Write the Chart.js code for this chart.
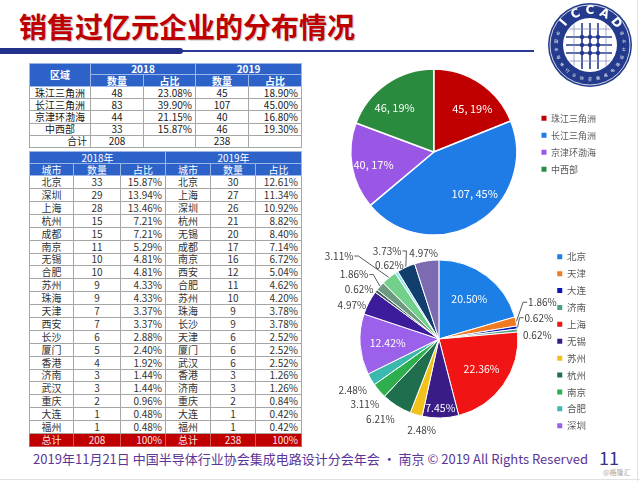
<!DOCTYPE html>
<html>
<head>
<meta charset="utf-8">
<script src="https://cdn.jsdelivr.net/npm/chart.js@4.4.0/dist/chart.umd.min.js"></script>
<style>
  html, body { margin: 0; padding: 0; background: #fff; }
  #slide { position: relative; width: 640px; height: 481px; overflow: hidden; background: #fff;
           font-family: "Noto Sans CJK SC", "Noto Sans", sans-serif; }
  .title { position: absolute; left: 19px; top: 10px; height: 32px; line-height: 32px;
           font-size: 28px; font-weight: bold; color: #C00000; letter-spacing: 0px;
           text-shadow: 1px 1px 1px rgba(0,0,0,0.25); white-space: nowrap; }
  .bar-thick { position: absolute; left: 0; top: 48px; width: 183px; height: 6px; background: #22318C; border-radius: 0 3px 3px 0; }
  .bar-thin { position: absolute; left: 0; top: 50px; width: 534px; height: 1.5px; background: #2A3A96; }
  #logo { position: absolute; left: 547px; top: 2px; }
  table { position: absolute; border-collapse: collapse; table-layout: fixed;
          font-family: "Noto Sans CJK SC", sans-serif; font-size: 10px; color: #1a1a1a; }
  td { padding: 0 3px; line-height: 10px; white-space: nowrap; overflow: hidden;
       border: 1px solid #a6a6a6; text-align: center; }
  td.pct { text-align: right; }
  td.hd { background: #2D62C8; color: #fff; border: 1px solid #9db6ea; }
  td.b { font-weight: bold; }
  tr.total td { background: #C00000; color: #fbe3e3; border: 1px solid #d65a5a; }
  #tblCity td { color: #333; }
  #tblCity td.hd { color: #fff; }
  #tblCity tr.total td { color: #fbe3e3; }
  .chart { position: absolute; }
  .footer { position: absolute; right: 52px; top: 450px; height: 18px; line-height: 18px;
            font-size: 13px; color: #5B3597; white-space: nowrap; }
  .page { position: absolute; left: 599px; top: 446px; font-size: 18px; line-height: 22px; color: #34348A; }
  .wm { position: absolute; left: 603px; top: 468px; font-size: 7px; line-height: 9px; color: #aaa; }
  .edge-r { position: absolute; left: 637px; top: 0; width: 1px; height: 481px; background: #e2e2e2; }
  .edge-b { position: absolute; left: 0; top: 479px; width: 640px; height: 1px; background: #e2e2e2; }
</style>
</head>
<body>
<div id="slide">
  <div class="title">销售过亿元企业的分布情况</div>
  <div class="bar-thin"></div>
  <div class="bar-thick"></div>
  <canvas id="logo" width="86" height="86"></canvas>

  <table id="tblRegion"></table>
  <table id="tblCity"></table>

  <div class="chart" id="wrapRegion"><canvas id="pieRegion"></canvas></div>
  <div class="chart" id="wrapCity"><canvas id="pieCity"></canvas></div>

  <div class="footer">2019年11月21日 中国半导体行业协会集成电路设计分会年会 · 南京 © 2019 All Rights Reserved</div>
  <div class="page">11</div>
  <div class="wm">@格隆汇</div>
  <div class="edge-r"></div>
  <div class="edge-b"></div>
</div>

<script>
// ---- 区域数据 ----
const regions = ['珠江三角洲', '长江三角洲', '京津环渤海', '中西部'];
const regionCount2018 = [48, 83, 44, 33];
const regionShare2018 = ['23.08%', '39.90%', '21.15%', '15.87%'];
const regionCount2019 = [45, 107, 40, 46];
const regionShare2019 = ['18.90%', '45.00%', '16.80%', '19.30%'];
const regionTotal2018 = 208;
const regionTotal2019 = 238;

// ---- 城市数据 ----
const cities2018 = ['北京', '深圳', '上海', '杭州', '成都', '南京', '无锡', '合肥', '苏州', '珠海',
                    '天津', '西安', '长沙', '厦门', '香港', '济南', '武汉', '重庆', '大连', '福州'];
const cityCount2018 = [33, 29, 28, 15, 15, 11, 10, 10, 9, 9, 7, 7, 6, 5, 4, 3, 3, 2, 1, 1];
const cityShare2018 = ['15.87%', '13.94%', '13.46%', '7.21%', '7.21%', '5.29%', '4.81%', '4.81%', '4.33%', '4.33%',
                       '3.37%', '3.37%', '2.88%', '2.40%', '1.92%', '1.44%', '1.44%', '0.96%', '0.48%', '0.48%'];
const cities2019 = ['北京', '上海', '深圳', '杭州', '无锡', '成都', '南京', '西安', '合肥', '苏州',
                    '珠海', '长沙', '天津', '厦门', '武汉', '香港', '济南', '重庆', '大连', '福州'];
const cityCount2019 = [30, 27, 26, 21, 20, 17, 16, 12, 11, 10, 9, 9, 6, 6, 6, 3, 3, 2, 1, 1];
const cityShare2019 = ['12.61%', '11.34%', '10.92%', '8.82%', '8.40%', '7.14%', '6.72%', '5.04%', '4.62%', '4.20%',
                       '3.78%', '3.78%', '2.52%', '2.52%', '2.52%', '1.26%', '1.26%', '0.84%', '0.42%', '0.42%'];

// ---- 城市饼图（百分比） ----
const pieCities = ['北京', '天津', '大连', '济南', '上海', '无锡', '苏州', '杭州', '南京', '合肥', '深圳',
                   '成都', '重庆', '西安', '长沙', '福州', '武汉', '珠海'];
const pieCityShare = [20.50, 1.86, 0.62, 0.62, 22.36, 7.45, 2.48, 6.21, 3.11, 2.48, 12.42,
                      4.97, 0.62, 1.86, 3.11, 0.62, 3.73, 4.97];

// 颜色
const regionColors = ['#C00000', '#1F7CE6', '#9A57E6', '#2A8B3F'];
const cityColors = ['#1C7FE6', '#F07A22', '#0A14B4', '#4E9E8C', '#F01414', '#3A1C86', '#F2C21A', '#1F6E4E',
                    '#2FAE4E', '#3CB9AE', '#9B61EA', '#3D1C9C', '#3C5A5A', '#6F9A82', '#72D08A', '#8CE6F0',
                    '#123E6E', '#7D6BB2'];

// 标签摆放（r: 半径倍数，<1 为扇区内部）
const regionLabelLayout = [
  { r: 0.70, dx: 6, dy: 5 },
  { r: 0.70, dx: 11, dy: -8 },
  { r: 0.70, dx: -3, dy: 3 },
  { r: 0.70, dx: -6, dy: 4 }
];
const cityLabelLayout = [
  { r: 0.64 },
  { r: 1.24, dx: 8, dy: -15, line: true },
  { r: 1.24, dx: 3, dy: -7, line: true },
  { r: 1.24, dx: 1, dy: 7 },
  { r: 0.66 },
  { r: 0.87 },
  { r: 1.24, dx: 11, dy: -3 },
  { r: 1.24, dx: -6, dy: -3 },
  { r: 1.24, dx: 0, dy: 1 },
  { r: 1.24, dx: -2, dy: 1 },
  { r: 0.65 },
  { r: 1.24, dx: 0, dy: 11 },
  { r: 1.24, dx: -2, dy: 10 },
  { r: 1.24, dx: -12, dy: 1, line: true },
  { r: 1.24, dx: -38, dy: -7, line: true },
  { r: 1.24, dx: 3, dy: 9 },
  { r: 1.24, dx: -11, dy: 1, line: true },
  { r: 1.24, dx: 0, dy: 11 }
];

const FONT = '"Noto Sans CJK SC", "Noto Sans", sans-serif';

// ---- 表格 ----
function place(el, left, top, colWidths) {
  el.style.left = left + 'px';
  el.style.top = top + 'px';
  el.style.width = colWidths.reduce((a, b) => a + b, 0) + 'px';
  el.insertAdjacentHTML('afterbegin', '<colgroup>' + colWidths.map(w => `<col style="width:${w}px">`).join('') + '</colgroup>');
}

function buildRegionTable() {
  const t = document.getElementById('tblRegion');
  let html = `<tr style="height:11px"><td class="hd b" rowspan="2">区域</td><td class="hd b" colspan="2">2018</td><td class="hd b" colspan="2">2019</td></tr>`;
  html += `<tr style="height:12px"><td class="hd b">数量</td><td class="hd b">占比</td><td class="hd b">数量</td><td class="hd b">占比</td></tr>`;
  regions.forEach((r, i) => {
    html += `<tr style="height:12.2px"><td>${r}</td><td>${regionCount2018[i]}</td><td class="pct">${regionShare2018[i]}</td>` +
            `<td>${regionCount2019[i]}</td><td class="pct">${regionShare2019[i]}</td></tr>`;
  });
  html += `<tr style="height:12.2px"><td class="pct">合计</td><td>${regionTotal2018}</td><td></td><td>${regionTotal2019}</td><td></td></tr>`;
  t.innerHTML = html;
  place(t, 29, 63, [61, 53, 52, 53, 53]);
}

function buildCityTable() {
  const t = document.getElementById('tblCity');
  let html = `<tr style="height:12px"><td class="hd" colspan="3">2018年</td><td class="hd" colspan="3">2019年</td></tr>`;
  html += `<tr style="height:12.2px"><td class="hd">城市</td><td class="hd">数量</td><td class="hd">占比</td>` +
          `<td class="hd">城市</td><td class="hd">数量</td><td class="hd">占比</td></tr>`;
  cities2018.forEach((c, i) => {
    html += `<tr style="height:12.9px"><td>${c}</td><td>${cityCount2018[i]}</td><td class="pct">${cityShare2018[i]}</td>` +
            `<td>${cities2019[i]}</td><td>${cityCount2019[i]}</td><td class="pct">${cityShare2019[i]}</td></tr>`;
  });
  html += `<tr class="total" style="height:13px"><td>总计</td><td>${regionTotal2018}</td><td class="pct">100%</td>` +
          `<td>总计</td><td>${regionTotal2019}</td><td class="pct">100%</td></tr>`;
  t.innerHTML = html;
  place(t, 29, 151, [44, 47, 45, 45, 45, 46]);
}

// ---- 饼图标签插件 ----
const sliceLabels = {
  id: 'sliceLabels',
  afterDatasetsDraw(chart, args, opts) {
    const meta = chart.getDatasetMeta(0);
    const ctx = chart.ctx;
    ctx.save();
    ctx.textAlign = 'center';
    ctx.textBaseline = 'middle';
    meta.data.forEach((arc, i) => {
      const lay = opts.layout[i];
      const text = opts.text(i);
      const mid = (arc.startAngle + arc.endAngle) / 2;
      const inside = lay.r < 1;
      const x = arc.x + Math.cos(mid) * arc.outerRadius * lay.r + (lay.dx || 0);
      const y = arc.y + Math.sin(mid) * arc.outerRadius * lay.r + (lay.dy || 0);
      ctx.font = (inside ? opts.insideSize : opts.outsideSize) + 'px ' + FONT;
      ctx.fillStyle = inside ? '#fff' : '#404040';
      if (lay.line) {
        const w = ctx.measureText(text).width;
        const sx = arc.x + Math.cos(mid) * (arc.outerRadius + 0.5);
        const sy = arc.y + Math.sin(mid) * (arc.outerRadius + 0.5);
        const side = x > arc.x ? -1 : 1;
        const ex = x + side * (w / 2 + 1);
        ctx.strokeStyle = '#595959';
        ctx.lineWidth = 1;
        ctx.beginPath();
        ctx.moveTo(sx, sy);
        ctx.lineTo(ex + side * 4, y);
        ctx.lineTo(ex, y);
        ctx.stroke();
      }
      ctx.fillText(text, x, y);
    });
    ctx.restore();
  }
};

function legendLabels(limit) {
  return {
    boxWidth: 5,
    boxHeight: 5,
    color: '#595959',
    generateLabels(chart) {
      return Chart.overrides.doughnut.plugins.legend.labels.generateLabels(chart)
        .map(it => Object.assign(it, { lineWidth: 0 }));
    },
    filter: item => item.index < limit
  };
}

function makePie(canvasId, wrapId, box, cfg) {
  const wrap = document.getElementById(wrapId);
  wrap.style.left = box.left + 'px';
  wrap.style.top = box.top + 'px';
  const cv = document.getElementById(canvasId);
  cv.width = box.width;
  cv.height = box.height;
  return new Chart(cv, {
    type: 'pie',
    data: {
      labels: cfg.labels,
      datasets: [{
        data: cfg.values,
        backgroundColor: cfg.colors,
        borderColor: '#fff',
        borderWidth: cfg.border,
        radius: cfg.radius
      }]
    },
    options: {
      responsive: false,
      animation: false,
      layout: { padding: { left: cfg.padLeft || 0 } },
      plugins: {
        tooltip: { enabled: false },
        legend: {
          position: 'right',
          align: 'start',
          title: { display: true, text: ' ', font: { size: cfg.legendFont }, padding: { top: cfg.legendTop, bottom: 0 } },
          labels: Object.assign(legendLabels(cfg.legendCount), {
            padding: cfg.legendPad,
            font: { size: cfg.legendFont, family: FONT }
          })
        },
        sliceLabels: cfg.sliceLabels
      }
    },
    plugins: [sliceLabels]
  });
}

// ---- 标志 ----
function drawLogo() {
  const g = document.getElementById('logo').getContext('2d');
  const cx = 43, cy = 43;
  g.fillStyle = '#243A8C';
  g.beginPath(); g.arc(cx, cy, 42, 0, Math.PI * 2); g.fill();
  g.strokeStyle = '#fff'; g.lineWidth = 0.8;
  g.beginPath(); g.arc(cx, cy, 40, 0, Math.PI * 2); g.stroke();
  g.fillStyle = '#fff';
  g.beginPath(); g.arc(cx, cy, 27, 0, Math.PI * 2); g.fill();
  g.save();
  g.beginPath(); g.arc(cx, cy, 26, 0, Math.PI * 2); g.clip();
  g.strokeStyle = '#243A8C'; g.lineWidth = 1.6;
  [-8, 0, 8].forEach(o => {
    g.beginPath(); g.moveTo(cx + o, cy - 22); g.lineTo(cx + o, cy + 24); g.stroke();
    g.beginPath(); g.moveTo(cx - 24, cy + o); g.lineTo(cx + 22, cy + o); g.stroke();
  });
  g.lineWidth = 0.8; g.strokeStyle = '#8a93c0';
  [-16, 16].forEach(o => {
    g.beginPath(); g.moveTo(cx + o, cy - 26); g.lineTo(cx + o, cy + 26); g.stroke();
    g.beginPath(); g.moveTo(cx - 26, cy + o); g.lineTo(cx + 26, cy + o); g.stroke();
  });
  g.fillStyle = '#243A8C';
  [-8, 0, 8].forEach(a => [-8, 0, 8].forEach(b => { g.beginPath(); g.arc(cx + a, cy + b, 2.2, 0, Math.PI * 2); g.fill(); }));
  g.restore();
  g.fillStyle = '#fff';
  g.font = 'bold 12px "DejaVu Sans", sans-serif';
  g.textAlign = 'center'; g.textBaseline = 'middle';
  'ICCAD'.split('').forEach((ch, k) => {
    const a = (-140 + k * 25) * Math.PI / 180;
    g.save();
    g.translate(cx + Math.cos(a) * 34, cy + Math.sin(a) * 34);
    g.rotate(a + Math.PI / 2);
    g.fillText(ch, 0, 0);
    g.restore();
  });
  g.font = '4px ' + FONT;
  '中国半导体行业协会集成电路设计分会'.split('').forEach((ch, k, arr) => {
    const a = (200 - k * (220 / (arr.length - 1))) * Math.PI / 180;
    g.save();
    g.translate(cx + Math.cos(a) * 34, cy + Math.sin(a) * 34);
    g.rotate(a - Math.PI / 2);
    g.fillText(ch, 0, 0);
    g.restore();
  });
}

buildRegionTable();
buildCityTable();
drawLogo();

makePie('pieRegion', 'wrapRegion', { left: 334, top: 57, width: 272, height: 190 }, {
  labels: regions,
  values: regionCount2019,
  colors: regionColors,
  border: 1.5,
  radius: 83,
  legendCount: regions.length,
  legendFont: 9,
  legendPad: 8,
  legendTop: 38,
  sliceLabels: {
    layout: regionLabelLayout,
    insideSize: 11,
    outsideSize: 11,
    text: i => regionCount2019[i] + ', ' + Math.round(regionCount2019[i] / regionTotal2019 * 100) + '%'
  }
});

makePie('pieCity', 'wrapCity', { left: 308, top: 230, width: 288, height: 218 }, {
  labels: pieCities,
  values: pieCityShare,
  colors: cityColors,
  border: 1,
  radius: 79,
  padLeft: 20,
  legendCount: 11,
  legendFont: 9.5,
  legendPad: 7.4,
  legendTop: 3.2,
  sliceLabels: {
    layout: cityLabelLayout,
    insideSize: 10.5,
    outsideSize: 10,
    text: i => pieCityShare[i].toFixed(2) + '%'
  }
});
</script>
</body>
</html>
